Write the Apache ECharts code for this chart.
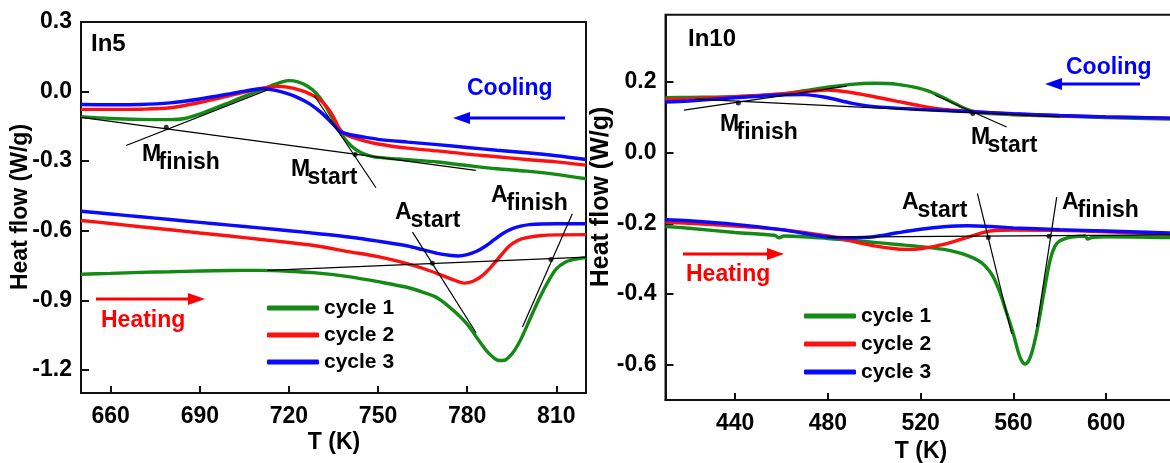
<!DOCTYPE html>
<html>
<head>
<meta charset="utf-8">
<script src="https://cdn.jsdelivr.net/npm/echarts@6/dist/echarts.min.js"></script>
<style>
html,body{margin:0;padding:0;background:#fff;}
#chart{width:1170px;height:463px;}
</style>
</head>
<body>
<div id="chart"></div>
<script>
// ---------- DATA ----------
const seriesNames = ['cycle 1', 'cycle 2', 'cycle 3'];
const seriesColors = ['#138a13', '#ff1010', '#0a0aff'];

// In5 panel
const in5XTicks = [660, 690, 720, 750, 780, 810];
const in5YTicks = [-1.2, -0.9, -0.6, -0.3, 0.0, 0.3];
const in5Cycle1Cooling = [[650,-0.108],[660,-0.116],[670,-0.120],[680,-0.121],[685,-0.116],[690,-0.097],[695,-0.072],[700,-0.047],[705,-0.021],[710,0.004],[715,0.030],[718,0.043],[720,0.047],[723,0.042],[726,0.025],[729,-0.005],[732,-0.055],[735,-0.125],[738,-0.190],[741,-0.235],[744,-0.262],[747,-0.276],[750,-0.284],[760,-0.294],[770,-0.304],[780,-0.319],[790,-0.333],[800,-0.343],[810,-0.357],[820,-0.376]];
const in5Cycle2Cooling = [[650,-0.077],[660,-0.077],[670,-0.076],[680,-0.070],[690,-0.047],[695,-0.033],[700,-0.017],[705,-0.002],[710,0.012],[714,0.020],[717,0.022],[720,0.018],[724,0.005],[727,-0.010],[730,-0.031],[733,-0.070],[735,-0.110],[737,-0.160],[739,-0.185],[741,-0.196],[745,-0.211],[750,-0.226],[760,-0.244],[770,-0.256],[780,-0.270],[790,-0.281],[800,-0.293],[810,-0.303],[820,-0.317]];
const in5Cycle3Cooling = [[650,-0.056],[660,-0.057],[670,-0.056],[680,-0.049],[690,-0.032],[700,-0.010],[705,0.002],[711,0.012],[715,0.006],[719,-0.007],[723,-0.026],[727,-0.053],[731,-0.092],[735,-0.143],[737,-0.170],[740,-0.184],[745,-0.196],[750,-0.206],[760,-0.218],[770,-0.229],[780,-0.241],[790,-0.253],[800,-0.264],[810,-0.277],[820,-0.293]];
const in5Cycle1Heating = [[650,-0.788],[660,-0.784],[670,-0.780],[680,-0.777],[690,-0.774],[700,-0.772],[710,-0.771],[720,-0.775],[730,-0.783],[740,-0.798],[750,-0.820],[760,-0.845],[765,-0.865],[770,-0.890],[775,-0.940],[780,-1.003],[784,-1.075],[787,-1.125],[790,-1.157],[792,-1.160],[795,-1.132],[798,-1.070],[801,-0.985],[804,-0.900],[807,-0.825],[810,-0.765],[813,-0.736],[816,-0.724],[820,-0.716]];
const in5Cycle2Heating = [[650,-0.556],[660,-0.569],[670,-0.583],[680,-0.596],[690,-0.610],[700,-0.623],[710,-0.637],[720,-0.651],[730,-0.667],[740,-0.690],[750,-0.712],[760,-0.743],[765,-0.762],[770,-0.785],[775,-0.810],[779,-0.826],[782,-0.818],[785,-0.795],[788,-0.757],[791,-0.712],[794,-0.668],[797,-0.642],[800,-0.630],[805,-0.621],[810,-0.618],[820,-0.617]];
const in5Cycle3Heating = [[650,-0.516],[660,-0.528],[670,-0.540],[680,-0.552],[690,-0.564],[700,-0.576],[710,-0.588],[720,-0.600],[730,-0.613],[740,-0.627],[750,-0.645],[760,-0.666],[765,-0.682],[770,-0.698],[774,-0.706],[777,-0.709],[780,-0.703],[783,-0.690],[786,-0.668],[789,-0.640],[792,-0.612],[795,-0.592],[798,-0.580],[801,-0.574],[805,-0.571],[810,-0.570],[820,-0.570]];
const in5Tangents = [
  [[650,-0.111],[782.9,-0.340]],
  [[665.2,-0.2325],[712.8,0.0075]],
  [[728.5,-0.017],[749.3,-0.415]],
  [[712.8,-0.771],[820,-0.714]],
  [[761.6,-0.606],[783,-1.04]],
  [[815.4,-0.527],[798.6,-1.015]]
];
const in5Dots = [[678.7,-0.154],[742.3,-0.271],[768.3,-0.740],[808.2,-0.724]];

// In10 panel
const in10XTicks = [440, 480, 520, 560, 600];
const in10YTicks = [-0.6, -0.4, -0.2, 0.0, 0.2];
const in10Cycle1Cooling = [[410,0.155],[420,0.156],[440,0.158],[460,0.166],[470,0.175],[480,0.185],[490,0.193],[500,0.196],[510,0.193],[520,0.181],[525,0.170],[530,0.155],[535,0.138],[540,0.122],[545,0.113],[550,0.110],[560,0.107],[580,0.103],[600,0.099],[640,0.093]];
const in10Cycle2Cooling = [[410,0.150],[420,0.152],[440,0.158],[460,0.166],[470,0.172],[480,0.177],[490,0.170],[500,0.158],[510,0.145],[520,0.132],[530,0.122],[540,0.117],[550,0.113],[560,0.109],[580,0.104],[600,0.101],[640,0.096]];
const in10Cycle3Cooling = [[410,0.143],[420,0.146],[440,0.155],[460,0.163],[470,0.164],[480,0.155],[490,0.140],[500,0.130],[520,0.122],[540,0.116],[560,0.110],[580,0.105],[600,0.101],[640,0.096]];
const in10Cycle1Heating = [[410,-0.209],[420,-0.214],[440,-0.226],[457,-0.234],[459,-0.241],[461,-0.236],[480,-0.243],[500,-0.254],[510,-0.260],[520,-0.266],[530,-0.274],[535,-0.281],[540,-0.291],[545,-0.306],[548,-0.322],[551,-0.348],[554,-0.392],[557,-0.452],[560,-0.513],[562,-0.562],[563.5,-0.588],[565,-0.598],[566.5,-0.590],[568,-0.565],[570,-0.510],[572,-0.440],[574,-0.365],[576,-0.300],[578,-0.264],[580,-0.250],[583,-0.242],[586,-0.238],[591,-0.236],[592,-0.245],[594,-0.240],[600,-0.238],[640,-0.242]];
const in10Cycle2Heating = [[410,-0.197],[420,-0.200],[440,-0.208],[460,-0.218],[480,-0.236],[490,-0.250],[500,-0.264],[510,-0.273],[515,-0.274],[520,-0.272],[530,-0.260],[540,-0.240],[545,-0.230],[550,-0.222],[560,-0.219],[580,-0.220],[600,-0.224],[640,-0.234]];
const in10Cycle3Heating = [[410,-0.190],[420,-0.193],[440,-0.203],[460,-0.218],[480,-0.239],[490,-0.241],[500,-0.238],[510,-0.227],[520,-0.217],[530,-0.210],[540,-0.207],[550,-0.209],[560,-0.213],[580,-0.218],[600,-0.222],[640,-0.230]];
const in10Tangents = [
  [[422.9,0.151],[580,0.101]],
  [[418,0.120],[488.1,0.188]],
  [[526.2,0.162],[557.1,0.0725]],
  [[479.6,-0.239],[630,-0.233]],
  [[544.5,-0.116],[559.3,-0.513]],
  [[578.7,-0.126],[570.1,-0.494]]
];
const in10Dots = [[441.4,0.1405],[542.5,0.1105],[549.2,-0.240],[575.4,-0.237]];

// ---------- CHART ----------
const FONT = "'Liberation Sans', Arial, Helvetica, sans-serif";
const chart = echarts.init(document.getElementById('chart'), null, {renderer: 'canvas'});

function fmt(v){ const s = Number(v).toFixed(1); return s === '-0.0' ? '0.0' : s; }

function xAxis(gridIndex, min, max, ticks){
  return {
    type: 'value', gridIndex, min, max,
    axisLine: {show: true, onZero: false, lineStyle: {color: '#111', width: 2}},
    axisTick: {show: true, inside: true, length: 7, customValues: ticks, lineStyle: {color: '#111', width: 2}},
    axisLabel: {show: true, customValues: ticks, margin: 12, color: '#000', fontSize: 23, fontWeight: 'bold', fontFamily: FONT, formatter: v => String(v)},
    splitLine: {show: false}
  };
}
function yAxis(gridIndex, min, max, ticks){
  return {
    type: 'value', gridIndex, min, max,
    axisLine: {show: true, onZero: false, lineStyle: {color: '#111', width: 2}},
    axisTick: {show: true, inside: true, length: 8, customValues: ticks, lineStyle: {color: '#111', width: 2}},
    axisLabel: {show: true, customValues: ticks, margin: 9, color: '#000', fontSize: 23, fontWeight: 'bold', fontFamily: FONT, formatter: fmt, showMaxLabel: true, showMinLabel: true},
    splitLine: {show: false}
  };
}

function curve(name, data, idx, color){
  return {
    name, type: 'line', xAxisIndex: idx, yAxisIndex: idx, data,
    showSymbol: false, symbol: 'none', smooth: 0.3, z: 3,
    lineStyle: {color, width: 3.4}, itemStyle: {color}, silent: true, animation: false
  };
}
function tangents(list, idx){
  return list.map(seg => ({
    type: 'line', xAxisIndex: idx, yAxisIndex: idx, data: seg,
    showSymbol: false, symbol: 'none', z: 5, silent: true, animation: false,
    lineStyle: {color: '#000', width: 1.2}
  }));
}
function dots(list, idx){
  return {
    type: 'scatter', xAxisIndex: idx, yAxisIndex: idx, data: list,
    symbolSize: 5, z: 6, itemStyle: {color: '#000'}, silent: true, animation: false
  };
}

const series = [
  curve(seriesNames[0], in5Cycle1Cooling, 0, seriesColors[0]),
  curve(seriesNames[1], in5Cycle2Cooling, 0, seriesColors[1]),
  curve(seriesNames[2], in5Cycle3Cooling, 0, seriesColors[2]),
  curve(seriesNames[0], in5Cycle1Heating, 0, seriesColors[0]),
  curve(seriesNames[1], in5Cycle2Heating, 0, seriesColors[1]),
  curve(seriesNames[2], in5Cycle3Heating, 0, seriesColors[2]),
  ...tangents(in5Tangents, 0),
  dots(in5Dots, 0),
  curve(seriesNames[0], in10Cycle1Cooling, 1, seriesColors[0]),
  curve(seriesNames[1], in10Cycle2Cooling, 1, seriesColors[1]),
  curve(seriesNames[2], in10Cycle3Cooling, 1, seriesColors[2]),
  curve(seriesNames[0], in10Cycle1Heating, 1, seriesColors[0]),
  curve(seriesNames[1], in10Cycle2Heating, 1, seriesColors[1]),
  curve(seriesNames[2], in10Cycle3Heating, 1, seriesColors[2]),
  ...tangents(in10Tangents, 1),
  dots(in10Dots, 1)
];

function txt(x, y, text, size, color, align, rotation){
  return {
    type: 'text', x, y, rotation: rotation || 0, silent: true, z: 10,
    style: {text, x: 0, y: 0, fill: color || '#000', font: 'bold ' + size + 'px ' + FONT,
            textAlign: align || 'left', textVerticalAlign: 'middle'}
  };
}
function sub(x, y, main, subText, size){
  // main letter with subscript; y = vertical centre of capitals
  return [txt(x, y, main, size), txt(x + size * 0.72 + (main === 'A' ? -1 : 0), y + 8, subText, size)];
}
function arrow(x1, x2, y, color){
  // x1 = tail, x2 = tip
  const dir = x2 > x1 ? 1 : -1;
  const headLen = 17, half = 6;
  return [
    {type: 'line', silent: true, z: 10, shape: {x1, y1: y, x2: x2 - dir * headLen * 0.8, y2: y}, style: {stroke: color, lineWidth: 3}},
    {type: 'polygon', silent: true, z: 10, shape: {points: [[x2, y], [x2 - dir * headLen, y - half], [x2 - dir * headLen, y + half]]}, style: {fill: color}}
  ];
}

const graphic = [
  // In5 panel
  txt(91, 44, 'In5', 24),
  txt(467, 89, 'Cooling', 23, '#0000ff'),
  ...arrow(565, 453, 118, '#0000ff'),
  txt(101, 321, 'Heating', 23, '#ff0000'),
  ...arrow(96, 205, 299, '#ff0000'),
  ...sub(142, 155, 'M', 'finish', 23),
  ...sub(291, 170, 'M', 'start', 23),
  ...sub(395, 213, 'A', 'start', 23),
  ...sub(491, 196, 'A', 'finish', 23),
  txt(21, 207, 'Heat flow (W/g)', 23, '#000', 'center', Math.PI / 2),
  txt(334, 443, 'T (K)', 23, '#000', 'center'),
  // In10 panel
  txt(688, 39, 'In10', 24),
  txt(1066, 68, 'Cooling', 23, '#0000ff'),
  ...arrow(1140, 1045, 84, '#0000ff'),
  txt(686, 275, 'Heating', 23, '#ff0000'),
  ...arrow(683, 784, 254, '#ff0000'),
  ...sub(720, 125, 'M', 'finish', 23),
  ...sub(971, 138, 'M', 'start', 23),
  ...sub(902, 203, 'A', 'start', 23),
  ...sub(1062, 203, 'A', 'finish', 23),
  txt(601, 197, 'Heat flow (W/g)', 25, '#000', 'center', Math.PI / 2),
  txt(921, 452, 'T (K)', 23, '#000', 'center')
];

const legendBase = {
  data: seriesNames, orient: 'vertical', icon: 'roundRect', itemWidth: 52, itemHeight: 5,
  padding: 0, selectedMode: false,
  textStyle: {fontSize: 21, fontWeight: 'bold', fontFamily: FONT, color: '#000', lineHeight: 22}
};

chart.setOption({
  animation: false,
  backgroundColor: '#fff',
  grid: [
    {left: 81, top: 22, width: 505, height: 371, show: true, borderColor: '#111', borderWidth: 2, backgroundColor: 'transparent', containLabel: false, outerBoundsMode: 'none'},
    {left: 665.5, top: 14.7, width: 533.4, height: 385.3, show: true, borderColor: '#111', borderWidth: 2, backgroundColor: 'transparent', containLabel: false, outerBoundsMode: 'none'}
  ],
  xAxis: [xAxis(0, 650, 820, in5XTicks), xAxis(1, 410, 640, in10XTicks)],
  yAxis: [yAxis(0, -1.3, 0.3, in5YTicks), yAxis(1, -0.7, 0.39, in10YTicks)],
  legend: [
    Object.assign({}, legendBase, {left: 267, top: 297, itemGap: 5}),
    Object.assign({}, legendBase, {left: 804, top: 305, itemGap: 6})
  ],
  graphic,
  series
});
</script>
</body>
</html>
